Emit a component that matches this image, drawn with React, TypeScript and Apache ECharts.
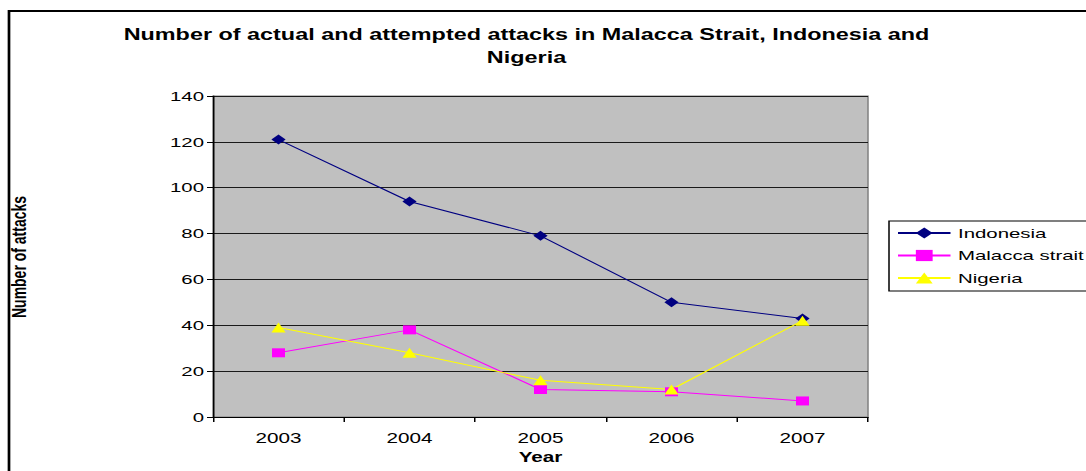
import React, { useEffect, useRef } from "react";
import * as echarts from "echarts";

const years = ["2003", "2004", "2005", "2006", "2007"];
const indonesia = [121, 94, 79, 50, 43];
const malacca = [28, 38, 12, 11, 7];
const nigeria = [39, 28, 16, 12, 42];
const yTicks = { min: 0, max: 140, interval: 20 };

const S = 1.5; // horizontal stretch of the reference picture
const W = 1086 / S;

export default function App() {
  const ref = useRef<HTMLDivElement>(null);
  useEffect(() => {
    const chart = echarts.init(ref.current!, null, { renderer: "svg" });
    const font = "Arial, 'Liberation Sans', sans-serif";
    chart.setOption({
      animation: false,
      backgroundColor: "#ffffff",
      textStyle: { fontFamily: font },
      title: {
        text: "Number of actual and attempted attacks in Malacca Strait, Indonesia and\nNigeria",
        left: 519 / S,
        top: 18,
        textAlign: "center",
        textStyle: { fontSize: 15.6, fontWeight: "bold", color: "#000", lineHeight: 23, fontFamily: font },
      },
      graphic: [
        {
          type: "polyline",
          shape: { points: [[9 / S, 475], [9 / S, 11], [W + 5, 11]] },
          style: { stroke: "#000", lineWidth: 1.8, fill: null },
          silent: true,
        },
        {
          type: "text",
          x: 19 / S,
          y: 257,
          rotation: Math.PI / 2,
          style: {
            text: "Number of attacks",
            font: "bold 14px Arial, 'Liberation Sans', sans-serif",
            fill: "#000",
            align: "center",
            verticalAlign: "middle",
          },
        },
      ],
      grid: {
        left: 213 / S,
        right: W - 868 / S,
        top: 96,
        bottom: 54,
        show: true,
        backgroundColor: "#C0C0C0",
        borderColor: "#808080",
        borderWidth: 1,
      },
      legend: {
        orient: "vertical",
        left: 889 / S,
        top: 221,
        padding: [5, 30, 6, 5],
        itemGap: 8.5,
        itemWidth: 35,
        itemHeight: 14,
        borderColor: "#000",
        borderWidth: 1,
        backgroundColor: "#fff",
        textStyle: { fontSize: 13.6, color: "#000", fontFamily: font },
        data: ["Indonesia", "Malacca strait", "Nigeria"],
      },
      xAxis: {
        type: "category",
        data: years,
        boundaryGap: true,
        name: "Year",
        nameLocation: "middle",
        nameGap: 30,
        nameTextStyle: { fontSize: 13.8, fontWeight: "bold", color: "#000", fontFamily: font },
        axisLine: { lineStyle: { color: "#000", width: 1 } },
        axisTick: { show: true, length: 5, lineStyle: { color: "#000" } },
        axisLabel: { fontSize: 13.8, color: "#000", margin: 14, fontFamily: font },
        splitLine: { show: false },
      },
      yAxis: {
        type: "value",
        min: yTicks.min,
        max: yTicks.max,
        interval: yTicks.interval,
        axisLine: { show: true, lineStyle: { color: "#000", width: 1 } },
        axisTick: { show: true, length: 4, lineStyle: { color: "#000" } },
        axisLabel: { fontSize: 13.6, color: "#000", margin: 6, fontFamily: font },
        splitLine: { show: true, lineStyle: { color: "#1a1a1a", width: 1 } },
      },
      series: [
        {
          name: "Indonesia",
          type: "line",
          data: indonesia,
          symbol: "diamond",
          symbolSize: [9.5, 10],
          itemStyle: { color: "#000080" },
          lineStyle: { color: "#000080", width: 1 },
        },
        {
          name: "Malacca strait",
          type: "line",
          data: malacca,
          symbol: "rect",
          symbolSize: [8.7, 9],
          itemStyle: { color: "#FF00FF" },
          lineStyle: { color: "#FF00FF", width: 1 },
        },
        {
          name: "Nigeria",
          type: "line",
          data: nigeria,
          symbol: "triangle",
          symbolSize: [9.5, 10],
          itemStyle: { color: "#FFFF00" },
          lineStyle: { color: "#FFFF00", width: 1 },
        },
      ],
    });
    return () => chart.dispose();
  }, []);
  return (
    <div
      ref={ref}
      style={{
        position: "absolute",
        left: 0,
        top: 0,
        width: W,
        height: 471,
        transform: `scaleX(${S})`,
        transformOrigin: "0 0",
      }}
    />
  );
}
